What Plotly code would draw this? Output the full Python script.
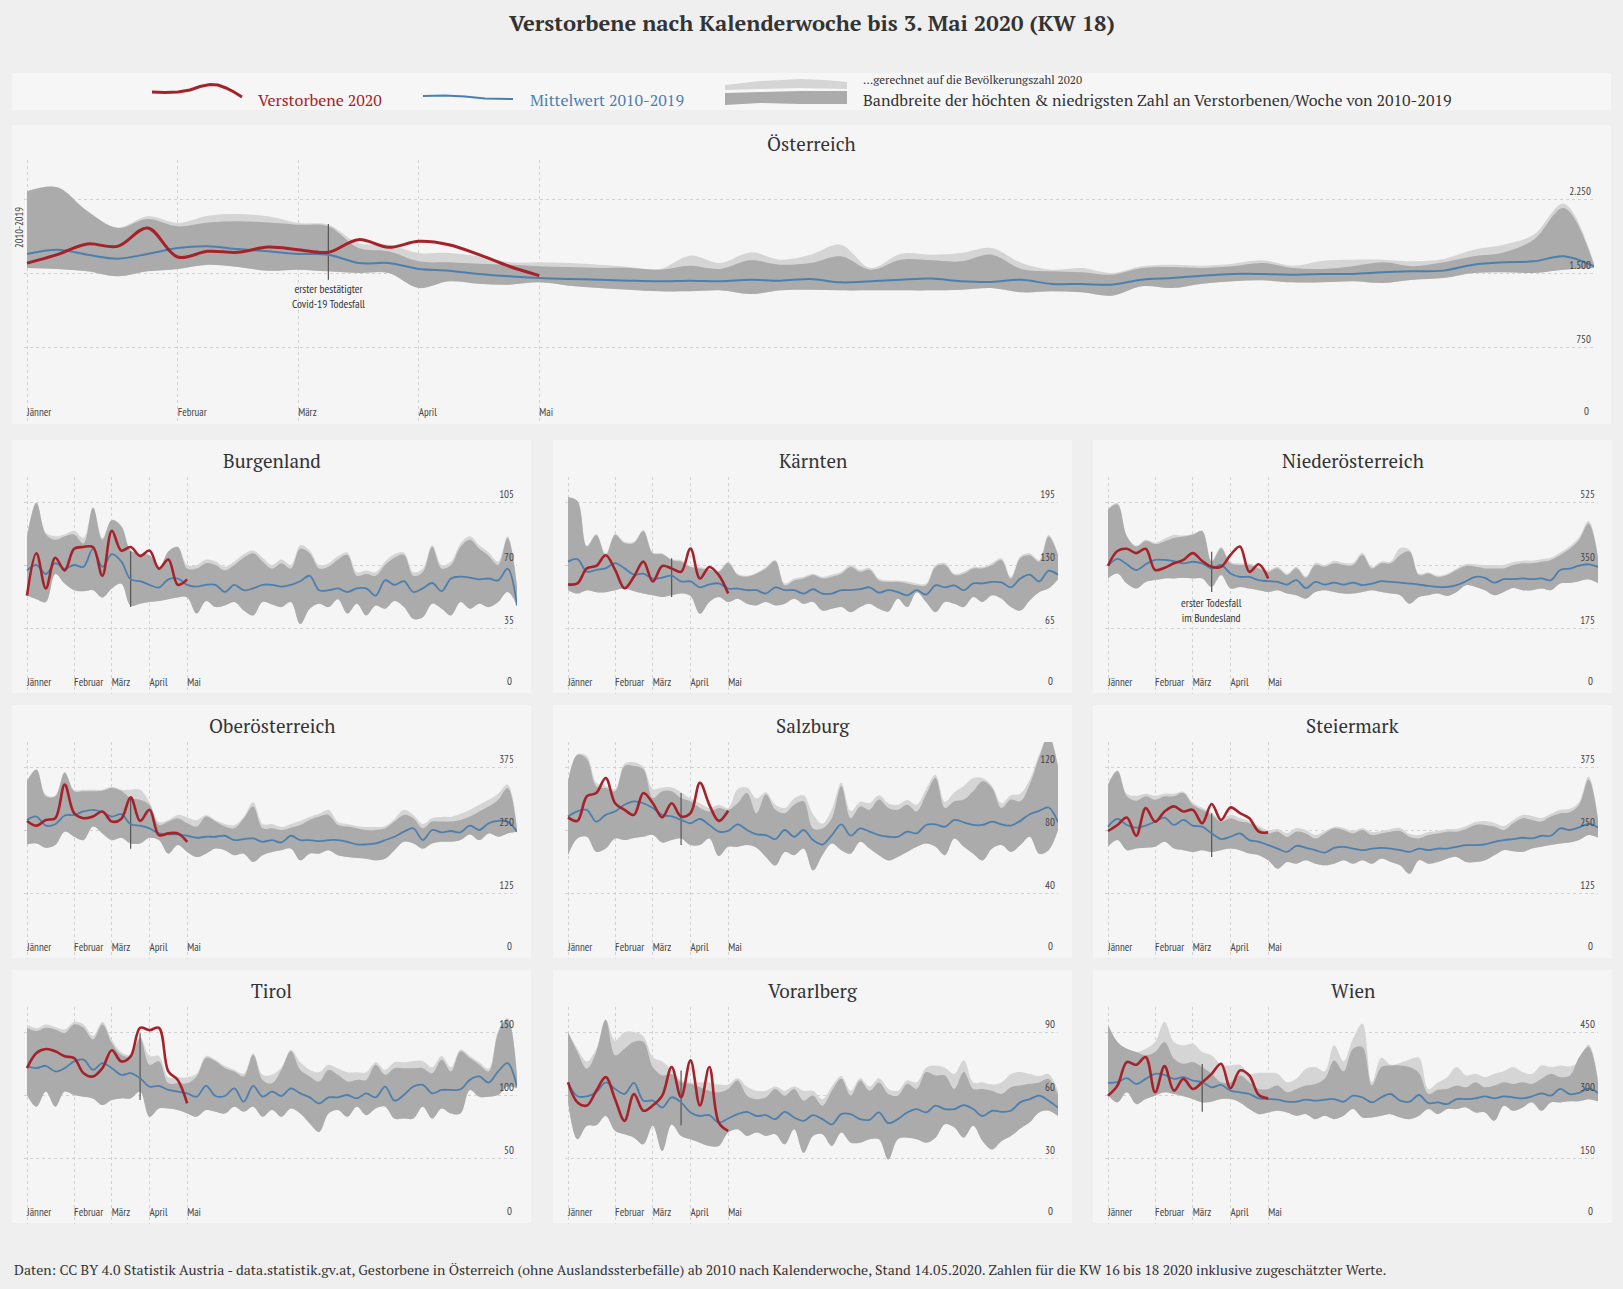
import plotly.graph_objects as go

W, H = 1623, 1289

# ---------------- data ----------------
WEEKS = list(range(1, 54))
WEEKS_2020 = list(range(1, 19))
MONTH_WEEKS = [1, 6, 10, 14, 18]
MONTH_LABELS = ["Jänner", "Februar", "März", "April", "Mai"]

REGIONS = ["Österreich", "Burgenland", "Kärnten", "Niederösterreich", "Oberösterreich",
           "Salzburg", "Steiermark", "Tirol", "Vorarlberg", "Wien"]

# Österreich
AT_2020 = [1600, 1686, 1794, 1770, 1956, 1662, 1720, 1710, 1763, 1736, 1710, 1838, 1760, 1821, 1787, 1686, 1568, 1473]
AT_MEAN = [1693, 1736, 1686, 1645, 1693, 1753, 1770, 1743, 1720, 1693, 1686, 1601, 1601, 1541, 1524, 1490, 1466, 1449,
           1439, 1432, 1422, 1416, 1422, 1416, 1432, 1422, 1439, 1405, 1416, 1432, 1443, 1416, 1409, 1432, 1389, 1389,
           1382, 1432, 1449, 1473, 1490, 1490, 1483, 1490, 1490, 1507, 1517, 1524, 1584, 1608, 1618, 1669, 1568]
AT_MAX = [2328, 2368, 2125, 1956, 2047, 1973, 2013, 2024, 2013, 1990, 1973, 1753, 1720, 1618, 1608, 1595, 1584, 1568,
          1561, 1551, 1551, 1534, 1574, 1541, 1628, 1584, 1601, 1669, 1534, 1635, 1628, 1618, 1686, 1541, 1517, 1507,
          1483, 1551, 1561, 1551, 1568, 1601, 1551, 1541, 1568, 1608, 1568, 1608, 1669, 1709, 1838, 2159, 1584]
AT_MAX_POP = [2330, 2370, 2130, 1960, 2074, 2007, 2081, 2098, 2074, 2007, 1990, 1804, 1787, 1703, 1703, 1669, 1608, 1608,
              1601, 1584, 1561, 1541, 1676, 1601, 1709, 1635, 1686, 1787, 1551, 1696, 1686, 1703, 1753, 1601, 1534, 1551,
              1500, 1568, 1584, 1574, 1595, 1628, 1574, 1625, 1635, 1635, 1618, 1642, 1736, 1787, 1888, 2203, 1601]
AT_MIN = [1551, 1541, 1517, 1466, 1517, 1541, 1584, 1561, 1524, 1534, 1517, 1500, 1500, 1348, 1416, 1392, 1382, 1405,
          1372, 1348, 1331, 1314, 1314, 1324, 1287, 1324, 1331, 1324, 1324, 1324, 1324, 1331, 1348, 1304, 1314, 1304,
          1270, 1365, 1348, 1392, 1416, 1426, 1405, 1405, 1416, 1399, 1432, 1449, 1500, 1507, 1500, 1534, 1551]
AT_TICKS = [0, 750, 1500, 2250]

# Burgenland
B_2020 = [53, 76.5, 57, 74, 67, 79, 80, 80, 64, 89, 78, 80, 75, 78, 68, 73, 59, 62]
B_MEAN = [67, 70, 65, 71, 68, 70, 69, 79, 69, 76, 72, 62, 61, 59, 57.5, 62, 62.5, 59, 58, 59, 59, 55, 59, 56, 57, 59,
          59, 58, 59, 61, 64, 56, 56, 57, 55, 57, 57, 53, 61.5, 59, 61, 55, 57, 60, 55.5, 62.5, 63.5, 63, 62, 62.5, 61.5,
          68, 47.5]
B_MAX = [86, 104.6, 87, 84, 86, 87, 82, 102, 84, 95, 91.5, 78, 76, 75.6, 68, 77.5, 80, 68, 68, 71, 70, 67, 70, 74, 76.5,
         72, 68, 71, 68, 79, 76.5, 68, 69, 73, 75.6, 64, 65, 64, 70, 74, 75.6, 64, 66, 80, 68, 70, 80, 84, 79, 75, 70,
         85, 58]
B_MAX_POP = [86, 104.6, 88, 86, 87, 89, 85, 102, 85, 95, 92, 78, 76, 75.6, 68, 77.5, 80, 70, 70, 73, 72, 69, 72, 76, 78,
             74, 70, 73, 70, 81, 78, 70, 71, 75, 77, 66, 67, 66, 72, 76, 77, 66, 68, 81, 70, 72, 82, 86, 81, 77, 72,
             86, 58]
B_MIN = [53, 51, 49.4, 65, 59.7, 56, 55.4, 56, 52, 57, 59.7, 47.5, 48.5, 49.4, 50, 51, 52, 52, 43, 50, 46.6, 47.5, 49.4,
         44.7, 42, 49.4, 48, 46.6, 49.4, 37.2, 45.7, 48.5, 46.6, 51, 43, 48.5, 42, 47.5, 45.7, 50, 46.6, 40, 41, 48.5,
         45.7, 42, 49.4, 45.7, 48.5, 46.6, 49.4, 55, 47.5]
B_TICKS = [0, 35, 70, 105]

# Kärnten
K_2020 = [110, 111, 126.5, 129, 140, 125, 106, 118, 133.5, 113, 129, 126.5, 123, 147, 116, 128, 119.6, 100.5]
K_MEAN = [133.5, 136, 123, 125, 126.5, 132, 126.5, 120, 121, 116, 117, 119, 113, 113, 107, 110, 111, 105.7, 105.7, 104,
          104, 100.5, 107, 104, 104, 100.5, 105, 100.5, 100.5, 104, 104, 105, 107, 101.5, 104, 102, 98.7, 104, 99.4,
          109, 107, 109, 104, 111, 111, 112.6, 112, 107, 116, 120, 113, 124, 120]
K_MAX = [200, 196, 149, 161, 140, 161, 152.6, 152.6, 164.8, 142, 141, 135, 133.5, 128, 126.5, 125, 123, 132, 119.6, 118,
         121, 126.5, 134, 109, 114, 116, 119.6, 116, 118, 121, 128, 123, 125, 114, 112.6, 112.6, 111, 109, 109, 128,
         130, 119.6, 121, 126.5, 126.5, 130, 135, 116, 137, 140, 133.5, 159.5, 140]
K_MAX_POP = [200, 196, 150, 162, 142, 162, 154, 154, 166, 143, 142, 136, 135, 129, 128, 126, 124, 133, 121, 119, 122,
             128, 135, 111, 116, 118, 121, 118, 120, 123, 130, 125, 127, 116, 114, 114, 113, 111, 111, 130, 132, 121,
             123, 128, 128, 132, 137, 118, 139, 142, 135, 161, 142]
K_MIN = [104, 100.5, 104, 102, 102, 104, 105.7, 103, 100.5, 98.7, 97, 98.7, 100.5, 98, 79.6, 91.8, 97, 91.8, 95.2, 90,
         88.3, 91.8, 88.3, 90, 95.2, 90, 91.8, 83, 84.8, 86.6, 81.3, 86.6, 90, 84.8, 82, 95.2, 86.6, 102, 91.8, 81.3,
         91.8, 90, 86.6, 97, 91.8, 98.7, 95.2, 86.6, 83, 93.5, 102, 105.7, 115]
K_TICKS = [0, 65, 130, 195]

# Niederösterreich
NOE_2020 = [348, 389, 395, 383, 395, 336, 342.5, 354.7, 364, 383, 361, 345, 345, 378, 401.5, 331, 352, 312.6]
NOE_MEAN = [348, 367, 352, 336, 352, 364, 364, 361, 354.7, 359, 354.7, 340.6, 350, 326.6, 317, 317, 308, 305, 303,
            295.7, 308, 286, 303, 295.7, 301, 295.7, 301, 294, 298.5, 305, 303, 301, 298.5, 295.7, 292, 289, 289, 294,
            305, 317, 314, 301, 310.7, 310.7, 312.6, 310.7, 312.6, 308, 336, 340, 348, 352, 345]
NOE_MAX = [504, 518, 429.5, 401.5, 417, 408, 415.5, 425, 429.5, 434, 443.6, 359, 396.8, 354.7, 350, 350, 340.6, 331,
           340.6, 322, 340.6, 314.4, 350, 345, 354.7, 350, 350, 378, 340.6, 354.7, 354.7, 378, 387.4, 322, 326.6, 317,
           322, 336, 348, 345, 340.6, 340.6, 340.6, 350, 354.7, 354.7, 359, 364, 378, 395, 420, 465, 370]
NOE_MAX_POP = [506, 522, 432, 404, 420, 412, 423, 434, 432, 436, 445, 362, 400, 358, 354, 354, 345, 336, 345, 326, 345,
               318, 356, 350, 362, 356, 356, 384, 345, 360, 360, 397, 392, 326, 330, 320, 326, 340, 353, 352, 350, 350,
               350, 358, 362, 362, 366, 370, 385, 402, 428, 472, 376]
NOE_MIN = [312.6, 326.6, 298.5, 284.5, 303, 308, 312.6, 312.6, 314.4, 312.6, 312.6, 289, 322, 284.5, 289, 284.5, 280,
           275, 280, 270.5, 266, 256.4, 275, 280, 275, 270.5, 270.5, 275, 280, 275, 270.5, 266, 242.4, 261, 266, 270.5,
           264, 275, 294, 289, 280, 266, 275, 286, 280, 280, 284.5, 280, 298.5, 300, 305, 310, 300]
NOE_TICKS = [0, 175, 350, 525]

# Oberösterreich
OOE_2020 = [268, 258.7, 270, 273.4, 340, 283.4, 273.4, 276.7, 286.8, 266.7, 272, 314.8, 268, 290, 240, 243.3, 243.3,
            226.6]
OOE_MEAN = [270, 276.7, 258.7, 261.4, 278.7, 280, 286.8, 290, 285.4, 276.7, 281.4, 261.4, 258.7, 253.3, 243.3, 241.3,
            241.3, 238.6, 234.6, 236.6, 236.6, 238.6, 230, 232, 233.3, 226.6, 230, 225.3, 238.6, 230, 230, 228, 230,
            230, 226.6, 221.3, 221.3, 223.3, 230, 236.6, 246.7, 253.3, 230, 250, 245.3, 248, 245.3, 258.7, 250, 263.4,
            268, 266.7, 246.7]
OOE_MAX = [347, 370, 316.8, 316.8, 363.6, 327, 327, 327, 328, 333.5, 328, 313.5, 310, 300, 260, 266.7, 273.4, 263.4,
           256.7, 276.7, 266.7, 256.7, 253.3, 273.4, 296.8, 253.3, 253.3, 250, 254.7, 260, 270, 276.7, 280, 260, 256.7,
           253.3, 250, 250, 253.3, 266.7, 280, 273.4, 253.3, 266.7, 266.7, 266.7, 270, 276.7, 286.8, 296.8, 310, 333.5,
           250]
OOE_MAX_POP = [347, 370, 320, 318, 365, 330, 330, 330, 330, 336, 330, 330, 330, 305, 266, 270, 280, 275, 270, 280, 270,
               262, 260, 276, 305, 262, 262, 256, 262, 268, 276, 282, 290, 266, 262, 258, 256, 256, 258, 272, 290, 280,
               262, 274, 276, 276, 282, 290, 300, 310, 322, 340, 256]
OOE_MIN = [221.3, 223.3, 214.6, 220, 246.7, 236.6, 230, 256.7, 243.3, 230, 234.6, 223.3, 223.3, 234.6, 230, 203, 220,
           206.5, 196.5, 203, 213.2, 210, 200, 203, 186.5, 200, 206.5, 210, 213.2, 189.8, 203, 203, 210, 200, 196.5,
           194.5, 193, 189.8, 193, 210, 226.6, 223.3, 213.2, 223.3, 226.6, 226.6, 230, 241.3, 230, 243.3, 236.6, 243.3,
           246.7]
OOE_TICKS = [0, 125, 250, 375]

# Salzburg
S_2020 = [88, 85.8, 101.4, 103.5, 113, 97, 92.8, 89.6, 103.5, 97, 88, 97, 88.6, 90.7, 110, 96, 85.8, 92.2]
S_MEAN = [88.6, 91.8, 92.8, 85.3, 89.6, 91.8, 96, 98.2, 97, 94, 89.6, 88.6, 86.4, 84.3, 87, 83.2, 79, 79.4, 83.6, 80,
          77.2, 76.8, 74.2, 80, 75.7, 80, 73.6, 70.8, 76.8, 83.6, 76.4, 81, 79, 76.8, 75.7, 75.7, 79, 77.9, 83.2, 83.6,
          82.1, 86.4, 84.9, 83.2, 83.2, 85.3, 83.6, 82.8, 85.8, 90, 92.2, 94.3, 85]
S_MAX = [111, 127.7, 125, 107.8, 106.7, 104.6, 120.6, 120.6, 118.5, 100.3, 104.6, 104.6, 100.3, 98.2, 94, 91.8, 94,
         92.8, 97, 103.5, 90.7, 102.5, 92.8, 90.7, 96, 98.2, 81, 81, 87.5, 107.8, 87.5, 95, 92.8, 99.3, 94, 92.8, 96,
         91.8, 102.5, 113, 94, 98.2, 99.3, 104.6, 111, 106.7, 94, 99.3, 98.2, 108.9, 126, 139.9, 120]
S_MAX_POP = [111, 128, 127, 110, 108, 106, 122, 123, 120, 106, 107, 107, 104, 100, 97, 94, 96, 94, 106, 107, 100, 104,
             96, 94, 100, 102, 90, 84, 93, 110, 92, 98, 97, 102, 97, 96, 99, 96, 106, 115, 98, 104, 108, 113, 113, 108,
             97, 102, 103, 112, 128, 140, 121]
S_MIN = [64, 74.6, 75.7, 66.1, 68.2, 74.6, 73.6, 75, 75.7, 76.8, 72, 73.6, 74.6, 70.4, 70.4, 74.6, 63.5, 69.3, 69.3,
         70.4, 68.7, 62.9, 57.5, 66.1, 64, 68.2, 54.3, 64, 71.4, 67.2, 65, 72.5, 68.2, 64, 60.7, 62.9, 66.1, 69.3, 71.4,
         69.3, 64, 74.6, 69.3, 65, 60.7, 68.2, 70.4, 66.1, 70.4, 75.7, 65, 67.2, 80]
S_TICKS = [0, 40, 80, 120]

# Steiermark
ST_2020 = [248, 260, 274.7, 238.6, 293.4, 266.7, 286.8, 296.8, 286.8, 290, 263.4, 301.5, 270, 294.8, 283.4, 273.4,
           246.7, 245.3]
ST_MEAN = [256.7, 272, 260, 254.7, 258.7, 266.7, 274.7, 260, 270, 258.7, 256.7, 243.3, 232, 236.6, 243.3, 230, 226.6,
           220, 213.2, 206.5, 218.6, 214.6, 210, 205.2, 214.6, 216.6, 213.2, 210, 213.2, 214.6, 213.2, 210, 206.5,
           213.2, 210, 213.2, 213.2, 216.6, 220, 220, 221.3, 226.6, 230, 232, 234.6, 233.3, 238.6, 238.6, 253.3, 250,
           255, 262, 255]
ST_MAX = [340, 367, 316.8, 308, 316.8, 310, 316.8, 316.8, 323.5, 300, 290, 280, 266.7, 273.4, 266.7, 263.4, 253.3,
          243.3, 246.7, 236.6, 246.7, 243.3, 233.3, 243.3, 253.3, 250, 243.3, 250, 240, 243.3, 246.7, 248, 236.6, 233.3,
          240, 243.3, 246.7, 246.7, 252, 260, 260, 256.7, 250, 263.4, 273.4, 270, 266.7, 276.7, 283.4, 285, 300, 350,
          270]
ST_MAX_POP = [342, 368, 322, 318, 322, 318, 322, 322, 326, 304, 294, 284, 272, 280, 274, 268, 258, 250, 252, 244, 254,
              250, 240, 248, 256, 254, 248, 254, 246, 248, 252, 254, 242, 240, 246, 248, 252, 252, 258, 266, 268, 264,
              258, 270, 280, 278, 274, 282, 290, 292, 306, 356, 274]
ST_MIN = [216.6, 230, 210, 213.2, 214.6, 216.6, 226.6, 213.2, 210, 206.5, 210, 206.5, 210, 213.2, 210, 203.2, 200, 190,
          173, 186.5, 183.2, 190, 183.2, 180, 183.2, 190, 183.2, 190, 183.2, 193.2, 186.5, 180, 163, 190, 183.2, 186.5,
          193.2, 196.5, 186.5, 186.5, 190, 200, 210, 208, 206.5, 213.2, 216.6, 220, 223.3, 225, 230, 240, 235]
ST_TICKS = [0, 125, 250, 375]

# Tirol
T_2020 = [121.3, 133.3, 136.5, 134.7, 130.7, 129.3, 117.3, 114.7, 121.3, 135.5, 126.7, 130.7, 153.3, 151.5, 153.3,
          118.7, 112, 93.3]
T_MEAN = [122.7, 121.3, 123.2, 118.7, 121.3, 126.7, 128, 120, 125.3, 121.3, 116, 117.3, 113.3, 106.7, 107.2, 104,
          102.7, 101.3, 98.7, 107.2, 99.2, 99.2, 105.3, 94.7, 107.2, 98.7, 102.7, 99.2, 105.3, 101.3, 98.1, 93.3, 98.1,
          98.1, 100, 97.3, 101.3, 98.1, 106.7, 95.5, 100, 106.7, 108, 101.3, 104, 104, 104.5, 112, 114.7, 109.9, 118.7,
          125.3, 106.7]
T_MAX = [153.3, 150.7, 153.3, 152, 149.3, 156, 153.3, 144, 156, 141.3, 132, 130.7, 145.3, 124, 126.7, 109.3, 109.3,
         109.3, 114.7, 129.3, 126.7, 121.3, 118.7, 114.7, 132, 112, 109.3, 120, 134.7, 120, 114.7, 110.7, 120, 116,
         110.7, 112, 112, 124, 116, 121.3, 121.3, 121.3, 121.3, 117.3, 128, 118.7, 134.7, 129.3, 124, 118.7, 149.3,
         160, 114.7]
T_MAX_POP = [156, 153, 156, 154, 152, 158, 156, 147, 158, 144, 134, 132, 146, 131, 131, 114, 114, 114, 117, 131, 128,
             123, 120, 117, 133, 116, 116, 122, 136, 126, 120, 118, 124, 121, 118, 118, 118, 126, 120, 126, 126, 127,
             127, 122, 131, 122, 136, 131, 126, 121, 151, 161, 116]
T_MIN = [100, 90.7, 102.7, 90.7, 102.7, 100, 98.7, 97.3, 92, 96, 97.3, 97.3, 102.7, 82.7, 89.3, 89.3, 88, 85.3, 82.7,
         88, 86.7, 85.3, 90.7, 86.7, 90.7, 82.7, 88, 82.7, 89.3, 85.3, 77.3, 70.7, 85.3, 88, 82.7, 90.7, 84, 89.3, 90.7,
         81.3, 81.3, 81.3, 90.7, 81.3, 89.3, 85.3, 85.3, 104, 98.7, 98.7, 100, 106.7, 105.3]
T_TICKS = [0, 50, 100, 150]

# Vorarlberg
V_2020 = [66, 56.5, 55, 62, 68.5, 58, 47.7, 60.5, 52.5, 55, 59.7, 73.3, 58.9, 76.5, 55, 73.3, 46.9, 42.9]
V_MEAN = [66, 59.4, 59.4, 61.3, 66, 62.9, 60.5, 65.8, 57.3, 57.3, 54, 58.9, 56.5, 51.7, 50, 50.4, 46.9, 48.8, 50.9, 52,
          50, 50.4, 48.5, 52, 49.3, 47.7, 50.4, 48.5, 46, 50.9, 50.9, 48.5, 48.2, 51.7, 46.6, 48.5, 51.7, 53.3, 51.7,
          54.9, 53.3, 53.3, 55.2, 53.3, 50, 52.5, 52, 52.5, 56.5, 58, 59.7, 57.3, 54]
V_MAX = [90, 80.5, 72.5, 80.5, 95.7, 78.9, 82, 85.3, 85.3, 73.3, 69.3, 70, 66, 65.3, 63.7, 62, 61.3, 62.9, 66.9, 59.7,
         58, 58.9, 62.9, 59.7, 62.9, 57.3, 59.7, 54.9, 62, 67.7, 59.7, 66.9, 62, 66, 60.5, 59.7, 65.3, 62.9, 70.9, 69.3,
         69.3, 62.9, 70.9, 62.9, 62.9, 62, 60.5, 63.7, 64.5, 65.3, 66, 67.7, 60]
V_MAX_POP = [90, 82, 76, 82, 96, 86, 90, 90, 88, 78, 76, 72, 67, 66, 66, 66, 65, 65, 68, 64, 62, 62, 64, 62, 64, 62,
             62, 58, 64, 69, 62, 68, 64, 68, 63, 62, 67, 66, 73, 74, 73, 70, 76.5, 66, 66, 65, 66, 70, 71, 70, 69, 70,
             62]
V_MIN = [56.5, 38.9, 45.3, 45.6, 50, 42.9, 41.3, 39.7, 36.5, 45.3, 33.3, 46, 40.5, 38.9, 37.3, 35.7, 35.7, 42.1, 43.7,
         40.5, 42.1, 40.5, 41.3, 36.5, 43.7, 32.5, 40.5, 41.3, 35.7, 42.1, 37.3, 37.3, 38.9, 38.9, 29.3, 38.9, 39.7,
         38.9, 37.3, 39.7, 46.1, 44.5, 39.7, 45.3, 38, 34.1, 38, 40.5, 44, 47, 51.7, 52.5, 50]
V_TICKS = [0, 30, 60, 90]

# Wien
W_2020 = [298.4, 322.4, 378.4, 372, 390.4, 306.4, 368.8, 310.4, 338.4, 314.4, 330.4, 350.4, 374.4, 316, 358.4, 346.4,
          300, 292]
W_MEAN = [328.8, 330.4, 340, 326.4, 338.4, 350.4, 348, 338.4, 342.4, 334.4, 330.4, 318.4, 324, 310.4, 306.4, 302.4,
          292, 290.4, 288.8, 284, 284, 288.8, 286.4, 288.8, 290.4, 284, 298.4, 294.4, 282.4, 294.4, 302.4, 286.4, 284,
          300, 280.8, 282.4, 278.4, 290.4, 290.4, 292, 296.8, 292, 296.8, 294.4, 292, 296.8, 304, 298.4, 314.4, 302, 305,
          315, 305]
W_MAX = [466, 426.4, 410.4, 402.4, 394.4, 402.4, 426.4, 386.4, 374.4, 378.4, 366.4, 350.4, 330.4, 330.4, 346.4, 330.4,
         314.4, 314.4, 322.4, 306.4, 314.4, 322.4, 326.4, 338.4, 382.4, 356.4, 410.4, 414.4, 322.4, 366.4, 370.4, 370.4,
         366.4, 352.4, 302.4, 312.4, 314.4, 322.4, 318.4, 330.4, 318.4, 322.4, 330.4, 326.4, 330.4, 326.4, 338.4, 350.4,
         342.4, 346, 390, 415, 330]
W_MAX_POP = [470, 426, 410, 402, 410, 426, 474.4, 426.4, 418.4, 422.4, 402.4, 394.4, 372, 370.4, 372, 350.4, 352.8,
             352.8, 350.4, 330.4, 338.4, 362.4, 366.4, 356.4, 418.4, 380.4, 434.4, 470.4, 330.4, 388.4, 372, 376.4,
             384.4, 388.4, 314.4, 330, 342.4, 366.4, 346.4, 350.4, 342.4, 350.4, 356.4, 366.4, 354.4, 350.4, 370.4,
             366.4, 370.4, 368, 380, 420, 340]
W_MIN = [300, 282.4, 306.4, 278.4, 290.4, 298.4, 306.4, 302.4, 296.8, 290.4, 282.4, 284, 290.4, 290.4, 282.4, 266.4,
         254.4, 258.4, 262.4, 258.4, 250.4, 254.4, 242.4, 250.4, 242.4, 250.4, 266.4, 246.4, 246.4, 250.4, 254.4, 246.4,
         242.4, 250.4, 266.4, 254.4, 266.4, 266.4, 270.4, 258.4, 258.4, 238.4, 274.4, 262.4, 270.4, 282.4, 262.4, 282.4,
         282.4, 285, 285, 290, 285]
W_TICKS = [0, 150, 300, 450]

# first death marker per region (week, lower and upper end of the marker line)
FIRST_DEATH_WEEK = [11, 12, 12, 12, 12, 13, 12, 13, 13, 11]
FIRST_DEATH_LOW = [1432, 46.6, 97, 275, 213, 70.4, 196.5, 96, 45.6, 260]
FIRST_DEATH_HIGH = [1997, 77.5, 137, 387, 313.5, 103.5, 283, 149, 71.7, 374]

SERIES_2020 = [AT_2020, B_2020, K_2020, NOE_2020, OOE_2020, S_2020, ST_2020, T_2020, V_2020, W_2020]
SERIES_MEAN = [AT_MEAN, B_MEAN, K_MEAN, NOE_MEAN, OOE_MEAN, S_MEAN, ST_MEAN, T_MEAN, V_MEAN, W_MEAN]
SERIES_MAX = [AT_MAX, B_MAX, K_MAX, NOE_MAX, OOE_MAX, S_MAX, ST_MAX, T_MAX, V_MAX, W_MAX]
SERIES_MAX_POP = [AT_MAX_POP, B_MAX_POP, K_MAX_POP, NOE_MAX_POP, OOE_MAX_POP, S_MAX_POP, ST_MAX_POP, T_MAX_POP,
                  V_MAX_POP, W_MAX_POP]
SERIES_MIN = [AT_MIN, B_MIN, K_MIN, NOE_MIN, OOE_MIN, S_MIN, ST_MIN, T_MIN, V_MIN, W_MIN]
TICKS = [AT_TICKS, B_TICKS, K_TICKS, NOE_TICKS, OOE_TICKS, S_TICKS, ST_TICKS, T_TICKS, V_TICKS, W_TICKS]

# ---------------- style ----------------
SERIF = "PT Serif, Liberation Serif, DejaVu Serif, serif"
NARROW = "PT Sans Narrow, Liberation Sans Narrow, DejaVu Sans Condensed, Roboto, sans-serif"
RED = "#a6222a"
BLUE = "#4d7fae"
DARK = "#ababab"
LIGHT = "#d5d5d5"
TEXT = "#333333"
GRID = "#d2d2d2"
PAD = 3  # px of extra room so that the edge gridlines / labels are kept


def px(x):
    return x / W


def py(y):
    return 1 - y / H


def de_num(v):
    return f"{v:,}".replace(",", ".")


def path(points):
    pts = [f"{px(x):.5f},{py(y):.5f}" for x, y in points]
    return "M" + " L".join(pts)


fig = go.Figure()
shapes = []
annotations = []
layout_axes = {}

# page title
annotations.append(dict(text="<b>Verstorbene nach Kalenderwoche bis 3. Mai 2020 (KW 18)</b>",
                        x=0.5, y=py(23), xref="paper", yref="paper", showarrow=False,
                        font=dict(family=SERIF, size=22, color=TEXT), xanchor="center", yanchor="middle"))

# legend strip
shapes.append(dict(type="rect", xref="paper", yref="paper", x0=px(12), x1=px(1611), y0=py(73), y1=py(110),
                   fillcolor="#f6f6f6", line=dict(width=0), layer="below"))
shapes.append(dict(type="path", xref="paper", yref="paper", layer="above",
                   path=path([(152, 92), (165, 92.5), (178, 92), (190, 90), (200, 86.5), (210, 84.5), (218, 85),
                              (226, 88), (234, 92), (242, 97)]),
                   line=dict(color=RED, width=3)))
shapes.append(dict(type="path", xref="paper", yref="paper", layer="above",
                   path=path([(423, 96), (445, 95.5), (465, 96.5), (485, 98.5), (513, 99)]),
                   line=dict(color=BLUE, width=2)))
shapes.append(dict(type="path", xref="paper", yref="paper", layer="above",
                   path=path([(725, 85), (760, 81), (800, 79), (825, 80), (847, 82), (847, 89), (800, 88), (760, 89),
                              (725, 90)]) + " Z",
                   fillcolor=LIGHT, line=dict(width=0)))
shapes.append(dict(type="path", xref="paper", yref="paper", layer="above",
                   path=path([(725, 93), (760, 92), (800, 91), (847, 91), (847, 104), (800, 104), (760, 103),
                              (725, 105)]) + " Z",
                   fillcolor=DARK, line=dict(width=0)))
annotations += [
    dict(text="Verstorbene 2020", x=px(256), y=py(100), xref="paper", yref="paper", showarrow=False,
         xanchor="left", yanchor="middle", font=dict(family=SERIF, size=16, color=RED)),
    dict(text="Mittelwert 2010-2019", x=px(528), y=py(100), xref="paper", yref="paper", showarrow=False,
         xanchor="left", yanchor="middle", font=dict(family=SERIF, size=16, color=BLUE)),
    dict(text="...gerechnet auf die Bevölkerungszahl 2020", x=px(861), y=py(79), xref="paper", yref="paper",
         showarrow=False, xanchor="left", yanchor="middle", font=dict(family=SERIF, size=11.5, color=TEXT)),
    dict(text="Bandbreite der höchten & niedrigsten Zahl an Verstorbenen/Woche von 2010-2019", x=px(861),
         y=py(100), xref="paper", yref="paper", showarrow=False, xanchor="left", yanchor="middle",
         font=dict(family=SERIF, size=16, color=TEXT)),
]

PANEL_COLS = [12, 553, 1093]
ROW_TOPS = [440, 705, 970]

for n in range(10):
    k = n + 1
    xa = "x" if k == 1 else f"x{k}"
    ya = "y" if k == 1 else f"y{k}"
    if n == 0:
        pl, pt, pr, pb = 12, 125, 1611, 424
        ax_l, ax_r, ax_t, ax_b = 27, 1594, 160, 421
        title_y = 144
        factor = 261 / 222
        red_w, blue_w = 3, 2
    else:
        c, r = (n - 1) % 3, (n - 1) // 3
        pl, pt = PANEL_COLS[c], ROW_TOPS[r]
        pr, pb = pl + 519, pt + 253
        ax_l, ax_r, ax_t, ax_b = pl + 15, pl + 505, pt + 37, pt + 251
        title_y = pt + 20
        factor = 214 / 189
        red_w, blue_w = 2.6, 1.8

    shapes.append(dict(type="rect", xref="paper", yref="paper", x0=px(pl), x1=px(pr), y0=py(pb), y1=py(pt),
                       fillcolor="#f5f5f5", line=dict(width=0), layer="below"))
    annotations.append(dict(text=REGIONS[n], x=px((pl + pr) / 2), y=py(title_y), xref="paper", yref="paper",
                            showarrow=False, xanchor="center", yanchor="middle",
                            font=dict(family=SERIF, size=19, color=TEXT)))

    common = dict(xaxis=xa, yaxis=ya, hoverinfo="skip", showlegend=False)
    mn = SERIES_MIN[n]
    # population adjusted band (light)
    fig.add_trace(go.Scatter(x=WEEKS, y=mn, mode="lines", line=dict(width=0, shape="spline", color=LIGHT), **common))
    fig.add_trace(go.Scatter(x=WEEKS, y=SERIES_MAX_POP[n], mode="lines", fill="tonexty", fillcolor=LIGHT,
                             line=dict(width=0, shape="spline", color=LIGHT), **common))
    # raw band (dark)
    fig.add_trace(go.Scatter(x=WEEKS, y=mn, mode="lines", line=dict(width=0, shape="spline", color=DARK), **common))
    fig.add_trace(go.Scatter(x=WEEKS, y=SERIES_MAX[n], mode="lines", fill="tonexty", fillcolor=DARK,
                             line=dict(width=0, shape="spline", color=DARK), **common))
    # marker of first death
    wk = FIRST_DEATH_WEEK[n]
    fig.add_trace(go.Scatter(x=[wk, wk], y=[FIRST_DEATH_LOW[n], FIRST_DEATH_HIGH[n]], mode="lines",
                             line=dict(width=1.2, color="#555555"), **common))
    # mean and 2020
    fig.add_trace(go.Scatter(x=WEEKS, y=SERIES_MEAN[n], mode="lines",
                             line=dict(width=blue_w, shape="spline", color=BLUE), **common))
    fig.add_trace(go.Scatter(x=WEEKS_2020, y=SERIES_2020[n], mode="lines",
                             line=dict(width=red_w, shape="spline", color=RED), **common))

    ticks = TICKS[n]
    top = ticks[-1] * factor
    x_step = (ax_r - ax_l) / 52
    y_unit = top / (ax_b - ax_t)
    layout_axes["xaxis" if k == 1 else f"xaxis{k}"] = dict(
        domain=[px(ax_l - PAD), px(ax_r)], anchor=ya, range=[1 - PAD / x_step, WEEKS[-1]],
        tickvals=MONTH_WEEKS, ticktext=MONTH_LABELS,
        ticklabelposition="inside right", ticks="", showline=False, zeroline=False, showgrid=True,
        gridcolor=GRID, griddash="dot", gridwidth=1, tickfont=dict(family=NARROW, size=11, color="#444444"),
        fixedrange=True)
    layout_axes["yaxis" if k == 1 else f"yaxis{k}"] = dict(
        domain=[py(ax_b + PAD), py(ax_t)], anchor=xa, side="right", range=[-PAD * y_unit, top],
        tickvals=ticks, ticktext=[de_num(v) for v in ticks], ticklabelposition="inside top", ticks="",
        showline=False, zeroline=False, showgrid=True, gridcolor=GRID, griddash="dot", gridwidth=1,
        tickfont=dict(family=NARROW, size=11, color="#444444"), fixedrange=True)
    # plotly hides the lowest inside tick label (it collides with the month labels), so write it directly
    annotations.append(dict(text=de_num(ticks[0]), x=WEEKS[-1], xref=xa, y=ticks[0], yref=ya,
                            showarrow=False, xanchor="right", yanchor="bottom", xshift=-3, yshift=1,
                            font=dict(family=NARROW, size=11, color="#444444")))

# marker texts
annotations.append(dict(text="erster bestätigter<br>Covid-19 Todesfall", x=FIRST_DEATH_WEEK[0], xref="x",
                        y=py(296), yref="paper", showarrow=False, xanchor="center", yanchor="middle",
                        font=dict(family=NARROW, size=11.5, color=TEXT)))
annotations.append(dict(text="erster Todesfall<br>im Bundesland", x=FIRST_DEATH_WEEK[3], xref="x4",
                        y=py(610), yref="paper", showarrow=False, xanchor="center", yanchor="middle",
                        font=dict(family=NARROW, size=11.5, color=TEXT)))
annotations.append(dict(text="2010-2019", x=px(19), y=py(228), xref="paper", yref="paper", showarrow=False,
                        textangle=-90, xanchor="center", yanchor="middle",
                        font=dict(family=NARROW, size=10.5, color="#444444")))

# footer
annotations.append(dict(
    text="Daten: CC BY 4.0 Statistik Austria - data.statistik.gv.at, Gestorbene in Österreich (ohne "
         "Auslandssterbefälle) ab 2010 nach Kalenderwoche, Stand 14.05.2020. Zahlen für die KW 16 bis 18 2020 "
         "inklusive zugeschätzter Werte.",
    x=px(12), y=py(1269), xref="paper", yref="paper", showarrow=False, xanchor="left", yanchor="middle",
    font=dict(family=SERIF, size=14, color=TEXT)))

fig.update_layout(
    width=W, height=H, margin=dict(l=0, r=0, t=0, b=0),
    paper_bgcolor="#efefef", plot_bgcolor="rgba(0,0,0,0)",
    shapes=shapes, annotations=annotations, showlegend=False,
    **layout_axes)

fig.write_html("out.html", post_script="document.body.style.margin='0';document.body.style.overflow='hidden';",
               config={"displayModeBar": False})
